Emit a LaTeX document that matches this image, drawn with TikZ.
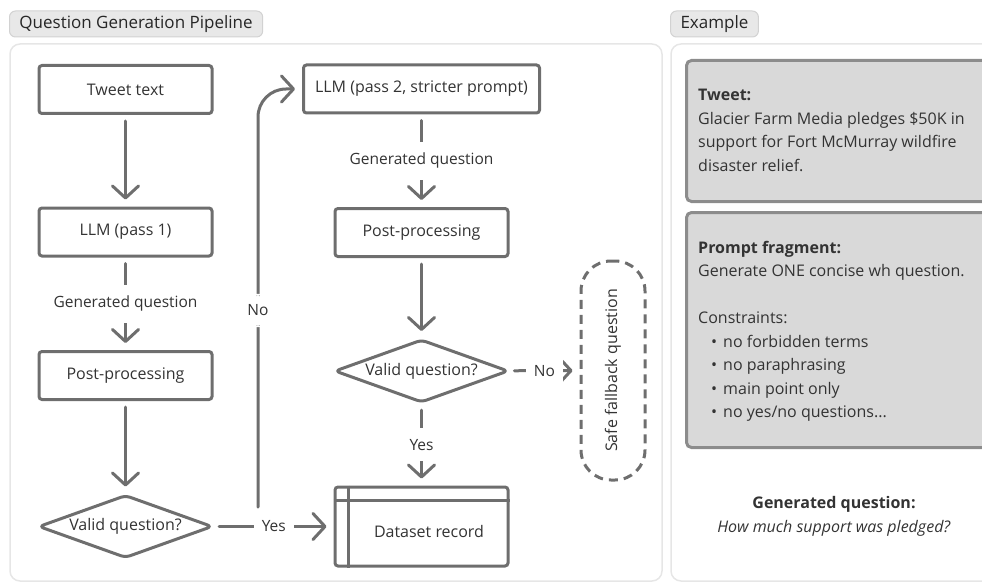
\documentclass[tikz,border=0pt]{standalone}
\usepackage{fontspec}
\setmainfont{Open Sans}
\usetikzlibrary{arrows.meta,shapes.geometric,positioning}

\definecolor{linegray}{HTML}{6E6E6E}
\definecolor{txtgray}{HTML}{333333}
\definecolor{tabfill}{HTML}{E8E8E8}
\definecolor{tabline}{HTML}{D2D2D2}
\definecolor{panelline}{HTML}{E6E6E6}
\definecolor{cardfill}{HTML}{D9D9D9}
\definecolor{cardline}{HTML}{8C8C8C}

\tikzset{
  stepbox/.style={draw=linegray, line width=3pt, rounded corners=3pt,
    minimum width=173pt, minimum height=48pt, text=txtgray,
    font=\fontsize{16}{18}\selectfont},
  decide/.style={diamond, draw=linegray, line width=3pt, rounded corners=5pt,
    aspect=2.8, inner sep=0pt, minimum width=174pt, minimum height=63pt,
    text=txtgray, font=\fontsize{16}{18}\selectfont},
  fallback/.style={draw=linegray, line width=3pt, dash pattern=on 9pt off 6pt,
    rounded corners=30pt, minimum width=64pt, minimum height=219pt},
  tab/.style={fill=tabfill, draw=tabline, line width=1pt, rounded corners=6pt,
    minimum height=26pt, inner xsep=10pt, text=black!85,
    font=\fontsize{17}{19}\selectfont},
  flow/.style={draw=linegray, line width=3pt, line cap=round,
    shorten <=6pt, shorten >=7pt},
  lbl/.style={fill=white, inner xsep=8pt, inner ysep=11pt, text=txtgray,
    font=\fontsize{15.5}{17}\selectfont},
  card/.style={fill=cardfill, draw=cardline, line width=3pt, rounded corners=5pt},
  cardtext/.style={text=txtgray, align=left, inner sep=0pt,
    font=\fontsize{16}{23.5}\selectfont}
}

\begin{document}
\begin{tikzpicture}[x=1pt, y=-1pt, >={Straight Barb[length=12pt, width=26pt, round]}]
\useasboundingbox (0,0) rectangle (982,583);

% panels and tabs
\draw[panelline, line width=1.5pt, rounded corners=10pt] (10,44) rectangle (662,581);
\draw[panelline, line width=1.5pt, rounded corners=10pt] (671,44) rectangle (1000,581);
\node[tab, anchor=west] (pipetab) at (9,24) {Question Generation Pipeline};
\node[tab, anchor=west] (extab) at (670,24) {Example};

% pipeline
\node[stepbox] (tweet) at (125.5,89.5) {Tweet text};
\node[stepbox] (llm1) at (125.5,232) {LLM (pass 1)};
\node[stepbox] (post1) at (125.5,375.5) {Post-processing};
\node[decide] (valid1) at (125.5,526.5) {Valid question?};

\node[stepbox, minimum width=236pt] (llm2) at (421.5,89) {LLM (pass 2, stricter prompt)};
\node[stepbox] (post2) at (421.5,232.5) {Post-processing};
\node[decide] (valid2) at (421.5,371) {Valid question?};
\node[stepbox, minimum height=79pt] (record) at (421.5,526.5) {};
\draw[linegray, line width=3pt] ([xshift=15pt]record.north west) -- ([xshift=15pt]record.south west);
\draw[linegray, line width=3pt] ([yshift=-15pt]record.north west) -- ([yshift=-15pt]record.north east);
\node[text=txtgray, font=\fontsize{16}{18}\selectfont] (rectxt) at (429,531) {Dataset record};

\node[fallback] (safe) at (613,370.5) {};
\node[rotate=90, text=txtgray, font=\fontsize{16}{18}\selectfont] (safetxt) at (safe.center) {Safe fallback question};

\coordinate (nofrom) at (258,507);

% connectors
\draw[flow, ->] (tweet) -- (llm1);
\draw[flow, ->] (llm1) -- node[lbl] {Generated question} (post1);
\draw[flow, ->] (post1) -- (valid1);
\draw[flow, ->, shorten <=5pt] (valid1) -- node[lbl] {Yes} (record);
\draw[flow, ->, shorten <=0pt, rounded corners=28pt] (nofrom) |- node[lbl, pos=0.235] {No} (llm2.west);
\draw[flow, ->] (llm2) -- node[lbl] {Generated question} (post2);
\draw[flow, ->] (post2) -- (valid2);
\draw[flow, ->] (valid2) -- node[lbl] {Yes} (record);
\draw[flow, ->, shorten <=5pt] (valid2) -- node[lbl] {No} (safe);

% example panel
\node[card, anchor=north west, minimum width=320pt, minimum height=141pt] (tweetcard) at (685,59) {};
\node[cardtext, anchor=north west] (tweetinfo) at (698,89) {\textbf{Tweet:}\\
  Glacier Farm Media pledges \$50K in\\
  support for Fort McMurray wildfire\\
  disaster relief.};

\node[card, anchor=north west, minimum width=320pt, minimum height=235pt] (promptcard) at (685,211) {};
\node[cardtext, anchor=north west] (promptinfo) at (698,241) {\textbf{Prompt fragment:}\\
  Generate ONE concise wh question.\\[23.5pt]
  Constraints:\\
  \hspace*{13pt}\textbullet\hspace{6pt}no forbidden terms\\
  \hspace*{13pt}\textbullet\hspace{6pt}no paraphrasing\\
  \hspace*{13pt}\textbullet\hspace{6pt}main point only\\
  \hspace*{13pt}\textbullet\hspace{6pt}no yes/no questions...};

\node[cardtext, align=center, anchor=center] (genq) at (834,516.5) {\textbf{Generated question:}\\
  \textit{How much support was pledged?}};
\end{tikzpicture}
\end{document}
